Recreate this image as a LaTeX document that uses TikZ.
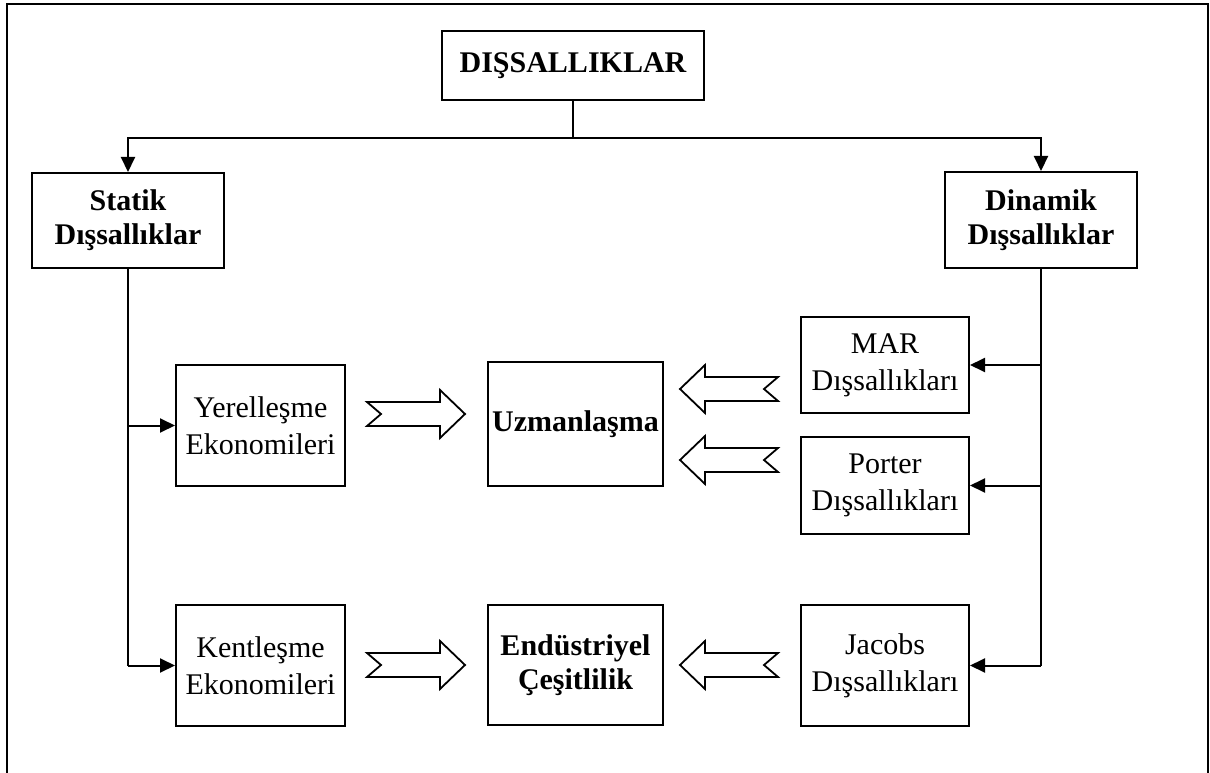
\documentclass[tikz,border=0pt]{standalone}
\usepackage{fontspec}
\setmainfont{Liberation Serif}
\usetikzlibrary{arrows.meta,positioning,calc}

\tikzset{
  plainbox/.style={
    draw=black, line width=2pt, align=center, inner sep=0pt,
    font=\fontsize{30}{37}\selectfont
  },
  boldbox/.style={
    plainbox, font=\fontsize{30}{34}\selectfont\bfseries
  },
  link/.style={line width=2pt},
  feed/.style={link, -{Triangle[length=15pt,width=14pt]}},
  hollowarrow/.pic={
    \draw[line width=1.8pt, fill=white]
      (0,0) -- (-25,-24) -- (-25,-12) -- (-98,-12) -- (-84,0)
      -- (-98,12) -- (-25,12) -- (-25,24) -- cycle;
  }
}

\begin{document}
\begin{tikzpicture}[x=1pt,y=-1pt]
  \useasboundingbox (0,0) rectangle (1210,773);
  \draw[link] (7,773) -- (7,4) -- (1208,4) -- (1208,773);

  % top level
  \node[boldbox, minimum width=262pt, minimum height=69pt] (dis) at (573,65.5) {DIŞSALLIKLAR};
  \node[boldbox, minimum width=192pt, minimum height=95pt] (statik) at (128,220.5) {Statik\\Dışsallıklar};
  \node[boldbox, minimum width=192pt, minimum height=96pt] (dinamik) at (1041,220) {Dinamik\\Dışsallıklar};

  % static side
  \node[plainbox, minimum width=169pt, minimum height=121pt] (yerel) at (260.5,425.5) {Yerelleşme\\Ekonomileri};
  \node[plainbox, minimum width=169pt, minimum height=121pt] (kent) at (260.5,665.5) {Kentleşme\\Ekonomileri};

  % middle
  \node[boldbox, minimum width=175pt, minimum height=124pt] (uzman) at (575.5,424) {Uzmanlaşma};
  \node[boldbox, minimum width=175pt, minimum height=120pt] (endus) at (575.5,665) {Endüstriyel\\Çeşitlilik};

  % dynamic side
  \node[plainbox, minimum width=168pt, minimum height=96pt] (mar) at (885,365) {MAR\\Dışsallıkları};
  \node[plainbox, minimum width=168pt, minimum height=97pt] (porter) at (885,485.5) {Porter\\Dışsallıkları};
  \node[plainbox, minimum width=168pt, minimum height=121pt] (jacobs) at (885,665.5) {Jacobs\\Dışsallıkları};

  % tree lines
  \draw[link] (dis.south) -- ++(0,37) coordinate (split);
  \draw[feed] (split) -| (statik.north);
  \draw[feed] (split) -| (dinamik.north);

  \draw[link] (statik.south) -- (statik.south |- kent.west);
  \draw[feed] (statik.south |- yerel.west) -- (yerel.west);
  \draw[feed] (statik.south |- kent.west) -- (kent.west);

  \draw[link] (dinamik.south) -- (dinamik.south |- jacobs.east);
  \draw[feed] (dinamik.south |- mar.east) -- (mar.east);
  \draw[feed] (dinamik.south |- porter.east) -- (porter.east);
  \draw[feed] (dinamik.south |- jacobs.east) -- (jacobs.east);

  % block arrows
  \pic at (465,414) {hollowarrow};
  \pic at (465,665) {hollowarrow};
  \pic[xscale=-1] at (680,389) {hollowarrow};
  \pic[xscale=-1] at (680,460) {hollowarrow};
  \pic[xscale=-1] at (680,665) {hollowarrow};
\end{tikzpicture}
\end{document}
